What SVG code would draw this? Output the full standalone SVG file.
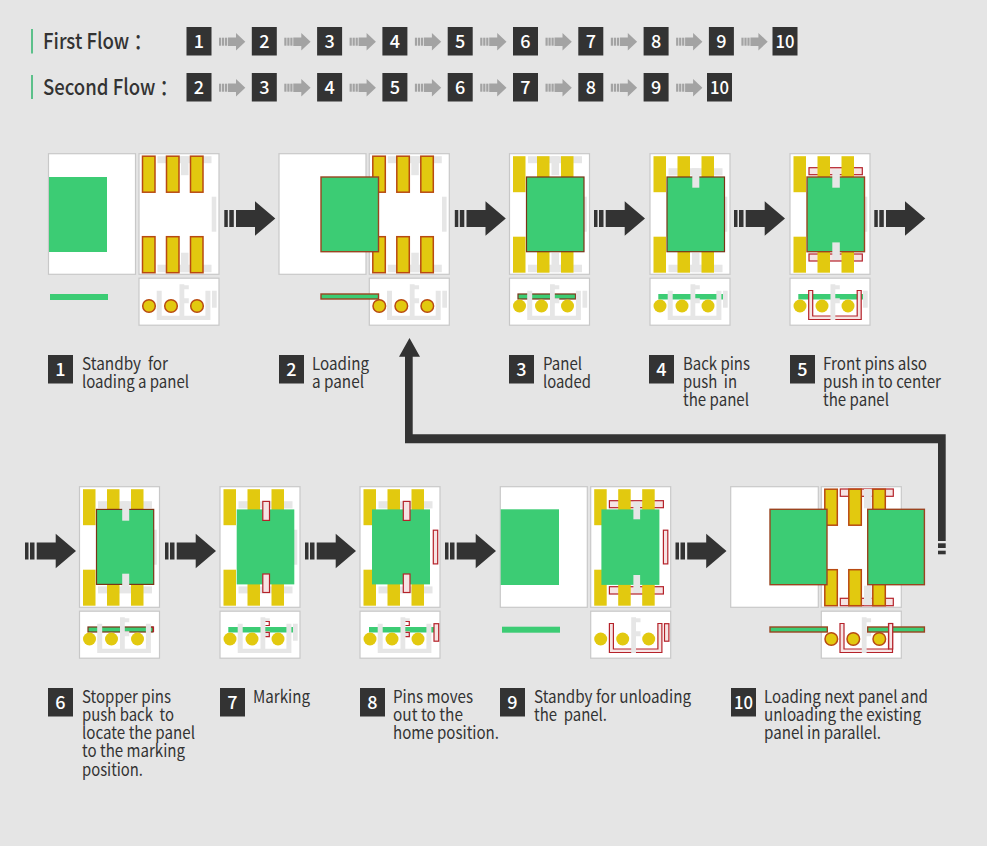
<svg xmlns="http://www.w3.org/2000/svg" width="987" height="846" viewBox="0 0 987 846">
<style>
text{font-family:"Noto Sans CJK SC","Noto Sans",sans-serif;white-space:pre}
.c{font-size:17px;fill:#333}
.h{font-size:22px;fill:#333;font-weight:500}
.n{font-size:18px;fill:#fff;font-weight:500;text-anchor:middle}
.sq{fill:#333}
.w{fill:#fff;stroke:#c8c8c8;stroke-width:1.2}
.g{fill:#e6e6e6}
.gr{fill:#3ccc74}
.grs{fill:#3ccc74;stroke:#9a4420;stroke-width:1.4}
.grb{fill:#3ccc74;stroke:#7a3316;stroke-width:1.2}
.p{fill:#e2c90f}
.ps{fill:#e2c90f;stroke:#b84a12;stroke-width:1.5}
.r{fill:#f6e4e4;stroke:#b5222a;stroke-width:1.2}
.rn{fill:none;stroke:#b5222a;stroke-width:1.2}
</style>
<defs>
<g id="frame"><rect class="w" x="0" y="0" width="80" height="120.6"/><rect class="w" x="0" y="124.5" width="80" height="47"/></g>
<path id="sideGray" class="g" d="M72.7 43h4.6v35h-4.6z"/>
<g id="bandsHome" class="g"><rect x="18.5" y="2.5" width="54" height="7"/><rect x="42" y="2.5" width="7.5" height="19"/><rect x="18.5" y="111" width="54" height="7.5"/><rect x="42" y="99" width="7.5" height="19.5"/></g>
<g id="bandTopIn" class="g"><rect x="18.5" y="14.5" width="54" height="7.2"/><rect x="42" y="14.5" width="7.5" height="19"/></g>
<g id="bandBotIn" class="g"><rect x="18.5" y="99.7" width="54" height="7"/></g>
<g id="pinsS" class="ps"><rect x="3.5" y="2.5" width="12.5" height="36"/><rect x="27.5" y="2.5" width="12.5" height="36"/><rect x="51.5" y="2.5" width="12.5" height="36"/><rect x="3.5" y="83" width="12.5" height="36"/><rect x="27.5" y="83" width="12.5" height="36"/><rect x="51.5" y="83" width="12.5" height="36"/></g>
<g id="pinsN" class="p"><rect x="3.5" y="2.5" width="12.5" height="36"/><rect x="27.5" y="2.5" width="12.5" height="36"/><rect x="51.5" y="2.5" width="12.5" height="36"/><rect x="3.5" y="83" width="12.5" height="36"/><rect x="27.5" y="83" width="12.5" height="36"/><rect x="51.5" y="83" width="12.5" height="36"/></g>
<path id="lowU" class="g" d="M17.7 137h5v25h43.7v-25h5v29.3h-53.700z"/>
<path id="lowC" class="g" d="M40.500 130.500h4.800v1h4.500v4h-4.500v9h4.500v5h-4.500v16.800h-4.800z"/>
<rect id="lowTab" class="g" x="73" y="137" width="4.700" height="17"/>
<g id="cS" class="ps"><circle cx="10" cy="152.300" r="6.300"/><circle cx="32" cy="152.300" r="6.300"/><circle cx="58" cy="152.300" r="6.300"/></g>
<g id="cN" class="p"><circle cx="10" cy="152.300" r="6.500"/><circle cx="32" cy="152.300" r="6.500"/><circle cx="58" cy="152.300" r="6.500"/></g>
<path id="redU" class="r" d="M18.700 136.800h4v25.500h44.500v-25.500h4v29h-52.500z"/>
<path id="brk" class="rn" d="M45.500 134.800h3.800v4h-3.800M45.500 145.700h3.800v4.200h-3.800"/>
<g id="tabsTB" class="r"><rect x="42.800" y="14.700" width="6.700" height="19"/><rect x="42.800" y="87.300" width="6.700" height="18.500"/></g>
<g id="big"><rect x="0" y="-8.500" width="3.500" height="17" fill="#333"/><rect x="5" y="-8.500" width="4.500" height="17" fill="#333"/><path d="M11.700 -8.500H30.700V-17.300L51 0 30.700 17.300V8.500H11.700z" fill="#333"/></g>
<g id="small" fill="#a3a3a3"><rect x="0" y="-4" width="2.200" height="8"/><rect x="3" y="-4" width="2.200" height="8"/><rect x="6" y="-4" width="2.200" height="8"/><path d="M9 -4.200H17V-8.700L26.300 0 17 8.700V4.200H9z"/></g>
</defs>
<rect width="987" height="846" fill="#e5e5e5"/>

<g id="flow-labels">
<rect x="31" y="29" width="2" height="24.500" fill="#5cc08a"/><rect x="31" y="75" width="2" height="24" fill="#5cc08a"/>
<text class="h" x="43" y="49" textLength="109" lengthAdjust="spacingAndGlyphs">First Flow ：</text>
<text class="h" x="43" y="95" textLength="135" lengthAdjust="spacingAndGlyphs">Second Flow ：</text>
</g>
<g id="flow1">
<g><rect class="sq" x="186.500" y="27" width="25" height="28.500"/><text class="n" x="199" y="48">1</text></g>
<g><rect class="sq" x="251.800" y="27" width="25" height="28.500"/><text class="n" x="264.300" y="48">2</text></g>
<g><rect class="sq" x="317.100" y="27" width="25" height="28.500"/><text class="n" x="329.600" y="48">3</text></g>
<g><rect class="sq" x="382.400" y="27" width="25" height="28.500"/><text class="n" x="394.900" y="48">4</text></g>
<g><rect class="sq" x="447.700" y="27" width="25" height="28.500"/><text class="n" x="460.200" y="48">5</text></g>
<g><rect class="sq" x="513" y="27" width="25" height="28.500"/><text class="n" x="525.500" y="48">6</text></g>
<g><rect class="sq" x="578.300" y="27" width="25" height="28.500"/><text class="n" x="590.800" y="48">7</text></g>
<g><rect class="sq" x="643.600" y="27" width="25" height="28.500"/><text class="n" x="656.100" y="48">8</text></g>
<g><rect class="sq" x="708.900" y="27" width="25" height="28.500"/><text class="n" x="721.400" y="48">9</text></g>
<g><rect class="sq" x="772.500" y="27" width="25" height="28.500"/><text class="n" x="785" y="48" textLength="19" lengthAdjust="spacingAndGlyphs">10</text></g>
</g>
<g id="flow2">
<g><rect class="sq" x="186.500" y="73" width="25" height="28.500"/><text class="n" x="199" y="94">2</text></g>
<g><rect class="sq" x="251.800" y="73" width="25" height="28.500"/><text class="n" x="264.300" y="94">3</text></g>
<g><rect class="sq" x="317.100" y="73" width="25" height="28.500"/><text class="n" x="329.600" y="94">4</text></g>
<g><rect class="sq" x="382.400" y="73" width="25" height="28.500"/><text class="n" x="394.900" y="94">5</text></g>
<g><rect class="sq" x="447.700" y="73" width="25" height="28.500"/><text class="n" x="460.200" y="94">6</text></g>
<g><rect class="sq" x="513" y="73" width="25" height="28.500"/><text class="n" x="525.500" y="94">7</text></g>
<g><rect class="sq" x="578.300" y="73" width="25" height="28.500"/><text class="n" x="590.800" y="94">8</text></g>
<g><rect class="sq" x="643.600" y="73" width="25" height="28.500"/><text class="n" x="656.100" y="94">9</text></g>
<g><rect class="sq" x="707" y="73" width="25" height="28.500"/><text class="n" x="719.500" y="94" textLength="19" lengthAdjust="spacingAndGlyphs">10</text></g>
</g>

<g id="connectors">
<use href="#small" x="219" y="41.700"/><use href="#small" x="284.300" y="41.700"/><use href="#small" x="349.600" y="41.700"/><use href="#small" x="414.900" y="41.700"/><use href="#small" x="480.200" y="41.700"/><use href="#small" x="545.500" y="41.700"/><use href="#small" x="610.800" y="41.700"/><use href="#small" x="676.100" y="41.700"/><use href="#small" x="741.400" y="41.700"/>
<use href="#small" x="219" y="87.700"/><use href="#small" x="284.300" y="87.700"/><use href="#small" x="349.600" y="87.700"/><use href="#small" x="414.900" y="87.700"/><use href="#small" x="480.200" y="87.700"/><use href="#small" x="545.500" y="87.700"/><use href="#small" x="610.800" y="87.700"/><use href="#small" x="676.100" y="87.700"/>
<use href="#big" x="224.300" y="218.500"/><use href="#big" x="454.800" y="218.500"/><use href="#big" x="594" y="218.500"/><use href="#big" x="734" y="218.500"/><use href="#big" x="874.300" y="218.500"/>
<use href="#big" x="25" y="551"/><use href="#big" x="165" y="551"/><use href="#big" x="305" y="551"/><use href="#big" x="445" y="551"/><use href="#big" x="675.500" y="551"/>
<path d="M938 541V443.300H405V356.700H399L409.500 338 420 356.700H412.700V434.300H945.700V541z" fill="#333"/>
<rect x="938" y="543.300" width="7.700" height="4.700" fill="#333"/><rect x="938" y="550.700" width="7.700" height="3.600" fill="#333"/>
</g>

<g id="step1">
<g transform="translate(139 153.700)"><use href="#frame"/><use href="#bandsHome"/><use href="#sideGray"/><use href="#pinsS"/><use href="#lowU"/><use href="#lowC"/><use href="#lowTab"/><use href="#cS"/></g>
<rect class="w" x="48.500" y="153.700" width="87" height="120.600"/>
<rect class="gr" x="49" y="177" width="58" height="75"/><rect class="gr" x="50" y="294" width="58" height="6"/>
<rect class="sq" x="48" y="355" width="25" height="28.500"/><text class="n" x="60.500" y="376">1</text>
<text class="c" x="82" y="370" textLength="86" lengthAdjust="spacingAndGlyphs">Standby  for</text>
<text class="c" x="82" y="388" textLength="107" lengthAdjust="spacingAndGlyphs">loading a panel</text>
</g>

<g id="step2">
<g transform="translate(369.300 153.700)"><use href="#frame"/><use href="#bandsHome"/><use href="#sideGray"/><use href="#pinsS"/><use href="#lowU"/><use href="#lowC"/><use href="#lowTab"/><use href="#cS"/></g>
<rect class="w" x="279" y="153.700" width="87" height="120.600"/>
<rect class="grs" x="321" y="177" width="57.500" height="74.700"/><rect class="grs" x="321" y="294" width="57.500" height="5"/>
<rect class="sq" x="279" y="355" width="25" height="28.500"/><text class="n" x="291.500" y="376">2</text>
<text class="c" x="312" y="370" textLength="57" lengthAdjust="spacingAndGlyphs">Loading</text>
<text class="c" x="312" y="388" textLength="52" lengthAdjust="spacingAndGlyphs">a panel</text>
</g>

<g id="step3">
<g transform="translate(509.500 153.700)"><use href="#frame"/><use href="#bandsHome"/><use href="#sideGray"/><use href="#pinsN"/><rect class="grb" x="17" y="23.300" width="57.500" height="74.700"/><rect class="grb" x="8.500" y="140.300" width="57.500" height="5"/><use href="#lowU"/><use href="#lowC"/><use href="#lowTab"/><use href="#cN"/></g>
<rect class="sq" x="509" y="355" width="25" height="28.500"/><text class="n" x="521.500" y="376">3</text>
<text class="c" x="543" y="370" textLength="39" lengthAdjust="spacingAndGlyphs">Panel</text>
<text class="c" x="543" y="388" textLength="48" lengthAdjust="spacingAndGlyphs">loaded</text>
</g>

<g id="step4">
<g transform="translate(650 153.700)"><use href="#frame"/><use href="#bandTopIn"/><rect class="g" x="18.500" y="111" width="54" height="7.500"/><rect class="g" x="42" y="99" width="7.500" height="19.500"/><use href="#sideGray"/><use href="#pinsN"/><rect class="grb" x="17" y="23.300" width="57.500" height="74.700"/><rect class="g" x="42.300" y="20" width="7" height="14"/><rect class="gr" x="8.300" y="140.300" width="65" height="5.500"/><use href="#lowU"/><use href="#lowC"/><use href="#lowTab"/><use href="#cN"/></g>
<rect class="sq" x="649" y="355" width="25" height="28.500"/><text class="n" x="661.500" y="376">4</text>
<text class="c" x="683" y="370" textLength="67" lengthAdjust="spacingAndGlyphs">Back pins</text>
<text class="c" x="683" y="388" textLength="54" lengthAdjust="spacingAndGlyphs">push  in</text>
<text class="c" x="683" y="406" textLength="66" lengthAdjust="spacingAndGlyphs">the panel</text>
</g>

<g id="step5">
<g transform="translate(790 153.700)"><use href="#frame"/><use href="#sideGray"/><rect class="r" x="19" y="14" width="53.300" height="7"/><rect class="r" x="19" y="100.300" width="53.300" height="7"/><use href="#pinsN"/><rect class="grs" x="17" y="23.300" width="57.500" height="74.700"/><rect class="g" x="42.300" y="16" width="7.500" height="18"/><rect class="g" x="42.300" y="88.700" width="7.500" height="17.500"/><rect class="gr" x="8.300" y="140.300" width="65" height="5.500"/><use href="#redU"/><use href="#lowC"/><use href="#lowTab"/><use href="#cN"/></g>
<rect class="sq" x="790" y="355" width="25" height="28.500"/><text class="n" x="802.500" y="376">5</text>
<text class="c" x="823" y="370" textLength="104" lengthAdjust="spacingAndGlyphs">Front pins also</text>
<text class="c" x="823" y="388" textLength="118" lengthAdjust="spacingAndGlyphs">push in to center</text>
<text class="c" x="823" y="406" textLength="66" lengthAdjust="spacingAndGlyphs">the panel</text>
</g>

<g id="step6">
<g transform="translate(79.500 486.700)"><use href="#frame"/><use href="#bandTopIn"/><use href="#bandBotIn"/><rect class="g" x="42" y="87" width="7.500" height="19"/><use href="#sideGray"/><use href="#pinsN"/><rect class="grb" x="17" y="22.700" width="57.200" height="75"/><rect class="g" x="42.700" y="20" width="7" height="14"/><rect class="g" x="42.700" y="87" width="7" height="14"/><rect class="grb" x="8.500" y="140.300" width="65" height="5"/><path class="rn" d="M71.700 140.300H74V145.300"/><use href="#lowU"/><use href="#lowC"/><use href="#cN"/></g>
<rect class="sq" x="48" y="688" width="25" height="28.500"/><text class="n" x="60.500" y="709">6</text>
<text class="c" x="82" y="703" textLength="89" lengthAdjust="spacingAndGlyphs">Stopper pins</text>
<text class="c" x="82" y="721" textLength="92" lengthAdjust="spacingAndGlyphs">push back  to</text>
<text class="c" x="82" y="739" textLength="113" lengthAdjust="spacingAndGlyphs">locate the panel</text>
<text class="c" x="82" y="757" textLength="103" lengthAdjust="spacingAndGlyphs">to the marking</text>
<text class="c" x="82" y="776" textLength="61" lengthAdjust="spacingAndGlyphs">position.</text>
</g>

<g id="step7">
<g transform="translate(220 486.700)"><use href="#frame"/><use href="#bandTopIn"/><use href="#bandBotIn"/><use href="#sideGray"/><use href="#pinsN"/><rect class="gr" x="16.700" y="22.700" width="57.600" height="75"/><use href="#tabsTB"/><rect class="gr" x="8.300" y="140.300" width="65" height="5.500"/><use href="#lowU"/><use href="#lowC"/><use href="#lowTab"/><use href="#brk"/><use href="#cN"/></g>
<rect class="sq" x="220" y="688" width="25" height="28.500"/><text class="n" x="232.500" y="709">7</text>
<text class="c" x="253" y="703" textLength="57" lengthAdjust="spacingAndGlyphs">Marking</text>
</g>

<g id="step8">
<g transform="translate(360 486.700)"><use href="#frame"/><use href="#bandTopIn"/><use href="#bandBotIn"/><use href="#pinsN"/><rect class="gr" x="12" y="22.700" width="58" height="75"/><use href="#tabsTB" x="0.500"/><rect class="r" x="73.300" y="43.500" width="4.400" height="33.700"/><rect class="gr" x="9" y="140.300" width="65" height="5.500"/><use href="#lowU"/><use href="#lowC"/><use href="#brk"/><rect class="r" x="74" y="137" width="4.700" height="17.500"/><use href="#cN"/></g>
<rect class="sq" x="360" y="688" width="25" height="28.500"/><text class="n" x="372.500" y="709">8</text>
<text class="c" x="393" y="703" textLength="80" lengthAdjust="spacingAndGlyphs">Pins moves</text>
<text class="c" x="393" y="721" textLength="70" lengthAdjust="spacingAndGlyphs">out to the</text>
<text class="c" x="393" y="739" textLength="106" lengthAdjust="spacingAndGlyphs">home position.</text>
</g>

<g id="step9">
<rect class="w" x="500.300" y="486.700" width="87" height="120.600"/>
<rect class="gr" x="500.700" y="509.300" width="58.300" height="75.700"/><rect class="gr" x="502" y="626.700" width="58" height="6"/>
<g transform="translate(590.700 486.700)"><use href="#frame"/><rect class="r" x="18.700" y="14" width="54" height="7"/><rect class="r" x="18.700" y="100" width="54" height="7.300"/><use href="#pinsN"/><rect class="gr" x="10.700" y="22.700" width="58" height="75.500"/><rect class="g" x="42.700" y="15" width="6.700" height="17.600"/><rect class="g" x="42.700" y="88.300" width="6.700" height="18"/><rect class="r" x="72.700" y="43.500" width="4.400" height="33.700"/><use href="#redU"/><use href="#lowC"/><rect class="r" x="73.800" y="137" width="4.400" height="17.500"/><use href="#cN"/></g>
<rect class="sq" x="500" y="688" width="25" height="28.500"/><text class="n" x="512.500" y="709">9</text>
<text class="c" x="534" y="703" textLength="157" lengthAdjust="spacingAndGlyphs">Standby for unloading</text>
<text class="c" x="534" y="721" textLength="73" lengthAdjust="spacingAndGlyphs">the  panel.</text>
</g>

<g id="step10">
<g transform="translate(821.300 486.700)"><use href="#frame"/><rect class="r" x="19" y="2.300" width="53" height="7.300"/><rect class="r" x="19" y="111.600" width="53" height="7.400"/><rect class="g" x="42.700" y="2.300" width="7.700" height="19.300"/><rect class="g" x="42.700" y="99" width="7.700" height="19.500"/><use href="#pinsS"/><use href="#redU"/><use href="#lowC"/><use href="#cS"/></g>
<rect class="w" x="730.700" y="486.700" width="87.600" height="120.600"/>
<rect class="grs" x="770" y="509.300" width="57" height="75.400"/><rect class="grs" x="867.700" y="509.300" width="56.700" height="75.400"/>
<rect class="grs" x="770" y="627" width="57.300" height="5"/><rect class="grs" x="867.700" y="627" width="56.700" height="5"/>
<rect class="r" x="888.700" y="623.500" width="4" height="25.500"/>
<rect class="sq" x="731" y="688" width="25" height="28.500"/><text class="n" x="743.500" y="709" textLength="19" lengthAdjust="spacingAndGlyphs">10</text>
<text class="c" x="764" y="703" textLength="164" lengthAdjust="spacingAndGlyphs">Loading next panel and</text>
<text class="c" x="764" y="721" textLength="157" lengthAdjust="spacingAndGlyphs">unloading the existing</text>
<text class="c" x="764" y="739" textLength="117" lengthAdjust="spacingAndGlyphs">panel in parallel.</text>
</g>
</svg>
